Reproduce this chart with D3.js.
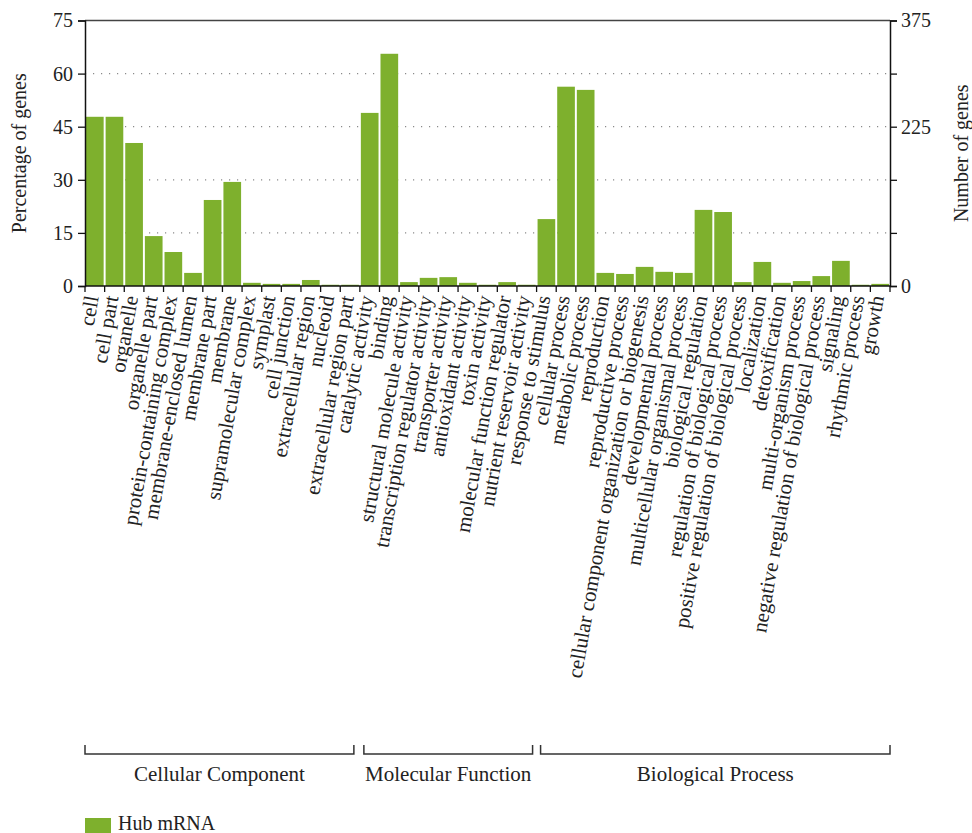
<!DOCTYPE html>
<html>
<head>
<meta charset="utf-8">
<script src="https://cdn.jsdelivr.net/npm/d3@7"></script>
<style>
  html, body { margin: 0; padding: 0; background: #fff; }
  svg text { font-family: "Liberation Serif", "Times New Roman", serif; fill: #222; }
</style>
</head>
<body>
<svg id="chart" width="972" height="833"></svg>
<script>
// ---- data ----
const categories = [
  "cell", "cell part", "organelle", "organelle part", "protein-containing complex",
  "membrane-enclosed lumen", "membrane part", "membrane", "supramolecular complex",
  "symplast", "cell junction", "extracellular region", "nucleoid", "extracellular region part",
  "catalytic activity", "binding", "structural molecule activity", "transcription regulator activity",
  "transporter activity", "antioxidant activity", "toxin activity", "molecular function regulator",
  "nutrient reservoir activity",
  "response to stimulus", "cellular process", "metabolic process", "reproduction",
  "reproductive process", "cellular component organization or biogenesis", "developmental process",
  "multicellular organismal process", "biological regulation", "regulation of biological process",
  "positive regulation of biological process", "localization", "detoxification",
  "multi-organism process", "negative regulation of biological process", "signaling",
  "rhythmic process", "growth"
];
const hubPercent = [
  47.8, 47.8, 40.4, 14.1, 9.6, 3.7, 24.3, 29.4, 0.9, 0.6, 0.6, 1.7, 0.35, 0.35,
  48.9, 65.6, 1.1, 2.3, 2.5, 0.9, 0.35, 1.1, 0.35,
  18.9, 56.3, 55.4, 3.7, 3.4, 5.4, 4.0, 3.7, 21.5, 20.9, 1.1, 6.8, 0.9, 1.4, 2.8, 7.1, 0.35, 0.6
];
const groupNames = ["Cellular Component", "Molecular Function", "Biological Process"];
const groupStart = [0, 14, 23];
const groupEnd = [14, 23, 41];
const leftTicks = [0, 15, 30, 45, 60, 75];
const rightTicks = [0, 75, 150, 225, 300, 375];
const rightTickLabels = ["0", "", "", "225", "", "375"];
const seriesName = "Hub mRNA";

// ---- layout ----
const svg = d3.select("#chart");
const L = 85, R = 890, T = 20.5, B = 286;
const green = "#7eb02d";
const fontSize = 20;
const labelSize = 21;

const x = d3.scaleBand().domain(categories).range([L, R]).paddingInner(0.1).paddingOuter(0.05);
const y = d3.scaleLinear().domain([0, 75]).range([B, T]);
const y2 = d3.scaleLinear().domain([0, 375]).range([B, T]);
const boundary = i => L + i * x.step();

// grid
svg.append("g").selectAll("line").data([15, 30, 45, 60]).join("line")
  .attr("x1", L).attr("x2", R)
  .attr("y1", d => y(d)).attr("y2", d => y(d))
  .attr("stroke", "#8a8a8a").attr("stroke-width", 1.2)
  .attr("stroke-dasharray", "1.2,6.8");

// top border
svg.append("line").attr("x1", L).attr("x2", R).attr("y1", T).attr("y2", T)
  .attr("stroke", "#444").attr("stroke-width", 1.5);

// bars
svg.append("g").selectAll("rect").data(categories).join("rect")
  .attr("x", d => x(d))
  .attr("width", x.bandwidth())
  .attr("y", (d, i) => y(hubPercent[i]))
  .attr("height", (d, i) => B - y(hubPercent[i]))
  .attr("fill", green);

// left axis
const gL = svg.append("g").attr("transform", `translate(${L},0)`)
  .call(d3.axisLeft(y).tickValues(leftTicks).tickSize(7).tickPadding(5));
gL.select(".domain").attr("stroke", "#111").attr("stroke-width", 1.5);
gL.selectAll(".tick line").attr("stroke", "#111").attr("stroke-width", 1.3);
gL.selectAll(".tick text").attr("font-size", fontSize).attr("font-family", "Liberation Serif").attr("fill", "#222");

// right axis
const gR = svg.append("g").attr("transform", `translate(${R},0)`)
  .call(d3.axisRight(y2).tickValues(rightTicks).tickFormat((d, i) => rightTickLabels[i]).tickSize(7).tickPadding(4));
gR.select(".domain").attr("stroke", "#111").attr("stroke-width", 1.5);
gR.selectAll(".tick line").attr("stroke", "#111").attr("stroke-width", 1.3);
gR.selectAll(".tick text").attr("font-size", fontSize).attr("font-family", "Liberation Serif").attr("fill", "#222");

// bottom axis line and ticks at band boundaries
svg.append("line").attr("x1", L).attr("x2", R).attr("y1", B).attr("y2", B)
  .attr("stroke", "#111").attr("stroke-width", 1.5);
svg.append("g").selectAll("line").data(d3.range(categories.length + 1)).join("line")
  .attr("x1", d => boundary(d)).attr("x2", d => boundary(d))
  .attr("y1", B).attr("y2", B + 6)
  .attr("stroke", "#111").attr("stroke-width", 1.3);

// category labels
svg.append("g").selectAll("text").data(categories).join("text")
  .attr("transform", d => `translate(${x(d) + x.bandwidth() / 2 + 4},${B + 11}) rotate(-80)`)
  .attr("text-anchor", "end")
  .attr("font-size", labelSize)
  .text(d => d);

// axis titles
svg.append("text")
  .attr("transform", `translate(26,${(T + B) / 2}) rotate(-90)`)
  .attr("text-anchor", "middle").attr("font-size", fontSize)
  .text("Percentage of genes");
svg.append("text")
  .attr("transform", `translate(968,${(T + B) / 2}) rotate(-90)`)
  .attr("text-anchor", "middle").attr("font-size", fontSize)
  .text("Number of genes");

// group brackets
const bracketInset = [[0, -6], [4, -4], [4, 0]];
const by = 754, bh = 9;
groupNames.forEach((name, g) => {
  const x1 = boundary(groupStart[g]) + bracketInset[g][0];
  const x2 = boundary(groupEnd[g]) + bracketInset[g][1];
  svg.append("path")
    .attr("d", `M${x1},${by - bh}V${by}H${x2}V${by - bh}`)
    .attr("fill", "none").attr("stroke", "#333").attr("stroke-width", 1.5);
  svg.append("text")
    .attr("x", (x1 + x2) / 2).attr("y", by + 27)
    .attr("text-anchor", "middle").attr("font-size", labelSize)
    .text(name);
});

// legend
svg.append("rect").attr("x", 85).attr("y", 818).attr("width", 26).attr("height", 15).attr("fill", green);
svg.append("text").attr("x", 118).attr("y", 830).attr("font-size", fontSize).text(seriesName);
</script>
</body>
</html>
